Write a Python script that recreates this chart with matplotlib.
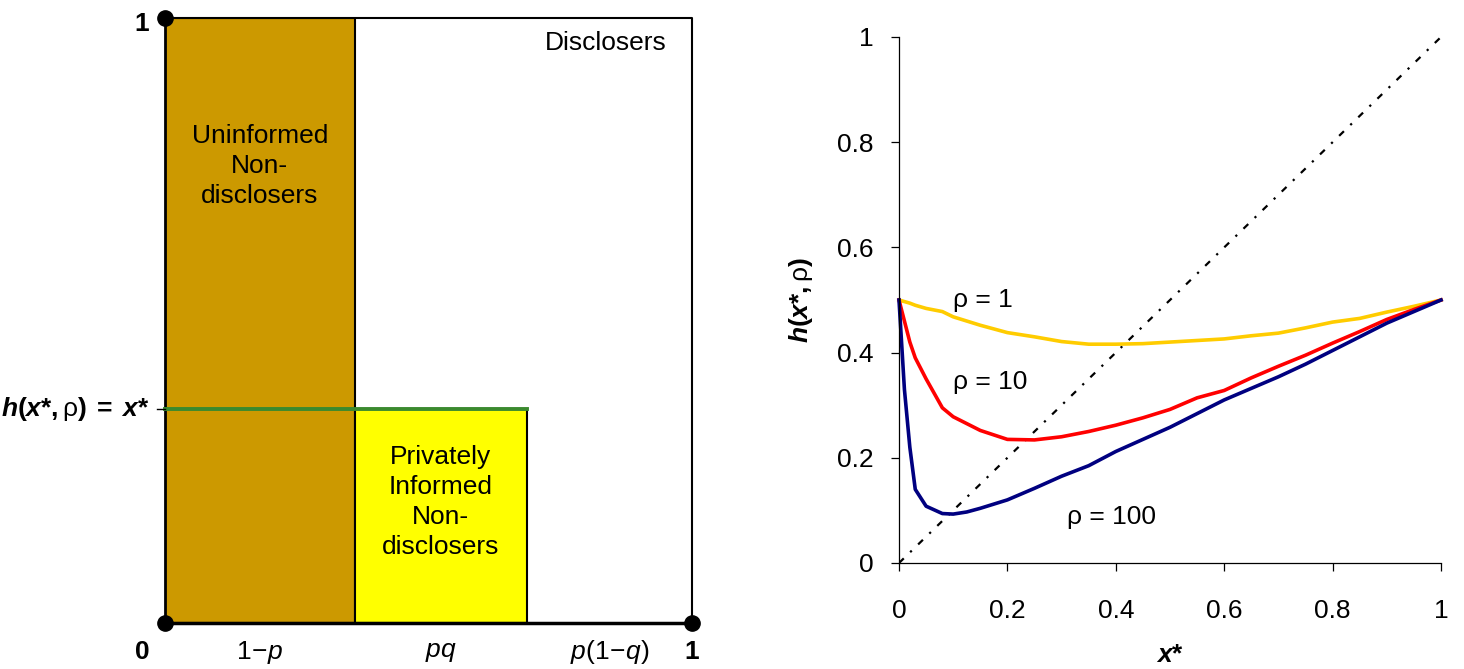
import matplotlib
matplotlib.use("Agg")
import matplotlib.pyplot as plt
from matplotlib.patches import Rectangle

plt.rcParams['font.family'] = ['Liberation Sans', 'DejaVu Sans']
plt.rcParams['mathtext.fontset'] = 'custom'
plt.rcParams['mathtext.rm'] = 'Liberation Sans'
plt.rcParams['mathtext.it'] = 'Liberation Sans:italic'
plt.rcParams['mathtext.bf'] = 'Liberation Sans:bold'
plt.rcParams['mathtext.bfit'] = 'Liberation Sans:italic:bold'

# left panel: shares of the unit interval
seg_widths = [0.36, 0.327, 0.313]          # 1-p, pq, p(1-q)
seg_labels = [r'$1\!-\!p$', r'$pq$', r'$p(1\!-\!q)$']
h_level = 0.354                            # h(x*,rho) = x*

# right panel: h(x*, rho) curves
x_vals = [0, 0.01, 0.02, 0.03, 0.05, 0.08, 0.1, 0.125, 0.15, 0.2, 0.25, 0.3, 0.35,
          0.4, 0.45, 0.5, 0.55, 0.6, 0.65, 0.7, 0.75, 0.8, 0.85, 0.9, 0.95, 1.0]
h_rho1 = [0.5, 0.497, 0.494, 0.49, 0.484, 0.478, 0.468, 0.46, 0.452, 0.438, 0.43,
          0.421, 0.416, 0.416, 0.417, 0.42, 0.423, 0.426, 0.432, 0.437, 0.447,
          0.458, 0.465, 0.477, 0.488, 0.5]
h_rho10 = [0.5, 0.46, 0.42, 0.39, 0.35, 0.295, 0.278, 0.265, 0.252, 0.235, 0.234,
           0.24, 0.25, 0.262, 0.276, 0.292, 0.314, 0.328, 0.352, 0.374, 0.395,
           0.418, 0.44, 0.463, 0.482, 0.5]
h_rho100 = [0.5, 0.33, 0.22, 0.14, 0.108, 0.094, 0.093, 0.097, 0.104, 0.12, 0.142,
            0.165, 0.185, 0.212, 0.235, 0.258, 0.284, 0.31, 0.332, 0.354, 0.378,
            0.404, 0.43, 0.456, 0.478, 0.5]
ticks = [0, 0.2, 0.4, 0.6, 0.8, 1]
tick_labels = ['0', '0.2', '0.4', '0.6', '0.8', '1']

fs = 19
h_txt = r'\mathbfit{h}\mathbf{(}\mathbfit{x}\mathbf{*,}\mathrm{\rho}\mathbf{)}'
fig = plt.figure(figsize=(14.64, 6.69), dpi=100)

# ---------- left panel ----------
ax1 = fig.add_axes([165 / 1464, 46 / 669, 527 / 1464, 605 / 669])
ax1.set_xlim(0, 1)
ax1.set_ylim(0, 1)
ax1.axis('off')

x0 = seg_widths[0]
x1 = seg_widths[0] + seg_widths[1]
ax1.add_patch(Rectangle((0, 0), x0, 1, facecolor='#cc9900', edgecolor='black', lw=1.5))
ax1.add_patch(Rectangle((x0, 0), seg_widths[1], h_level, facecolor='#ffff00',
                        edgecolor='black', lw=1.5))
ax1.plot([0, 1, 1], [1, 1, 0], color='black', lw=1.5, clip_on=False)
ax1.plot([0, 0], [0, 1], color='black', lw=2, clip_on=False)
ax1.plot([0, 1], [0, 0], color='black', lw=2.5, clip_on=False)
ax1.plot([0, x1], [h_level, h_level], color='#3a8a2e', lw=2.8, clip_on=False)
ax1.plot([-0.015, 0], [h_level, h_level], color='black', lw=1, clip_on=False)
ax1.plot([0, 0, 1], [1, 0, 0], 'o', color='black', ms=11, clip_on=False, zorder=5)

ax1.text(-0.03, 0.99, '1', fontsize=fs, fontweight='bold', ha='right', va='center')
ax1.text(-0.03, -0.048, '0', fontsize=fs, fontweight='bold', ha='right', va='center')
ax1.text(1.0, -0.048, '1', fontsize=fs, fontweight='bold', ha='center', va='center')
centers = [x0 / 2, x0 + seg_widths[1] / 2, x1 + seg_widths[2] / 2]
for c, lab in zip(centers, seg_labels):
    ax1.text(c, -0.048, lab, fontsize=fs, ha='center', va='center')
ax1.text(-0.03, h_level,
         '$' + h_txt + r'\;\mathbf{=}\;\mathbfit{x}\mathbf{*}$',
         fontsize=fs, ha='right', va='center')
ax1.text(0.837, 0.958, 'Disclosers', fontsize=fs, ha='center', va='center')
ax1.text(x0 / 2, 0.755, 'Uninformed\nNon-\ndisclosers', fontsize=fs,
         ha='center', va='center', linespacing=1.33)
ax1.text(x0 + seg_widths[1] / 2, 0.2, 'Privately\nInformed\nNon-\ndisclosers',
         fontsize=fs, ha='center', va='center', linespacing=1.33)

# ---------- right panel ----------
ax2 = fig.add_axes([899 / 1464, 106 / 669, 542 / 1464, 526 / 669])
ax2.plot([0, 1], [0, 1], color='black', lw=1.6, linestyle=(0, (3, 4, 1, 4)))
ax2.plot(x_vals, h_rho1, color='#ffcc00', lw=2.6, clip_on=False)
ax2.plot(x_vals, h_rho10, color='#ff0000', lw=2.6, clip_on=False)
ax2.plot(x_vals, h_rho100, color='#000080', lw=2.6, clip_on=False)
ax2.set_xlim(0, 1)
ax2.set_ylim(0, 1)
ax2.set_xticks(ticks)
ax2.set_xticklabels(tick_labels)
ax2.set_yticks(ticks)
ax2.set_yticklabels(tick_labels)
for s in ['top', 'right']:
    ax2.spines[s].set_visible(False)
for s in ['left', 'bottom']:
    ax2.spines[s].set_linewidth(0.9)
ax2.tick_params(axis='both', direction='out', length=6, width=0.9, labelsize=fs)
ax2.tick_params(axis='x', pad=20)
ax2.tick_params(axis='y', pad=12)

ax2.text(0.1, 0.5, 'ρ = 1', fontsize=fs, ha='left', va='center')
ax2.text(0.1, 0.344, 'ρ = 10', fontsize=fs, ha='left', va='center')
ax2.text(0.31, 0.087, 'ρ = 100', fontsize=fs, ha='left', va='center')

ax2.set_xlabel(r'$\mathbfit{x}\mathbf{*}$', fontsize=fs, labelpad=14)
ax2.set_ylabel('$' + h_txt + '$', fontsize=fs, labelpad=16)

fig.savefig('out.png', dpi=100)
